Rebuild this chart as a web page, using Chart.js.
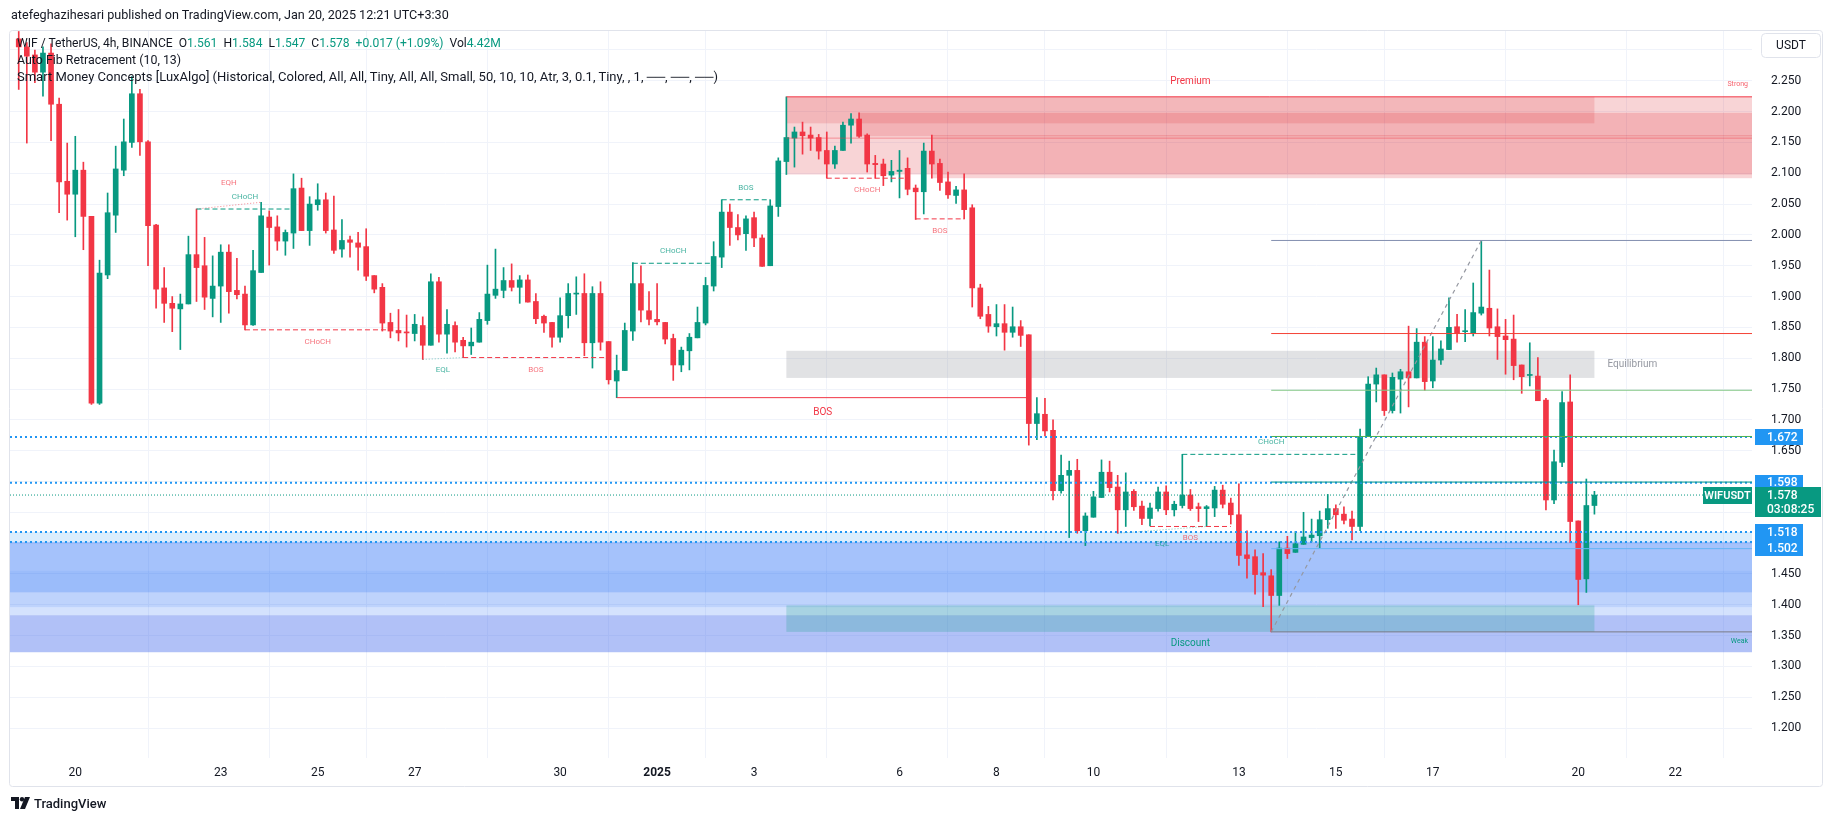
<!DOCTYPE html>
<html>
<head>
<meta charset="utf-8">
<title>WIFUSDT 4h</title>
<script src="https://cdn.jsdelivr.net/npm/chart.js@4.4.1/dist/chart.umd.min.js"></script>
<style>
  html, body { margin: 0; padding: 0; background: #fff; }
  #wrap { position: relative; width: 1835px; height: 821px; overflow: hidden; }
  #chart { position: absolute; left: 0; top: 0; }
  .txt { position: absolute; white-space: pre; font-family: Roboto, "Liberation Sans", sans-serif; color: #131722; line-height: 16px; }
  .g { color: #089981; }
</style>
</head>
<body>
<div id="wrap">
  <canvas id="chart" width="1835" height="821"></canvas>
  <div class="txt" style="left:11px; top:7px; font-size:12.6px;">atefeghazihesari published on TradingView.com, Jan 20, 2025 12:21 UTC+3:30</div>
  <div class="txt" style="left:17px; top:35px; font-size:12.1px;">WIF / TetherUS, 4h, BINANCE  O<span class="g">1.561</span>  H<span class="g">1.584</span>  L<span class="g">1.547</span>  C<span class="g">1.578</span>  <span class="g">+0.017 (+1.09%)</span>  Vol<span class="g">4.42M</span></div>
  <div class="txt" style="left:17px; top:52px; font-size:12.4px;">Auto Fib Retracement (10, 13)</div>
  <div class="txt" style="left:17px; top:69px; font-size:13px;">Smart Money Concepts [LuxAlgo] (Historical, Colored, All, All, Tiny, All, All, Small, 50, 10, 10, Atr, 3, 0.1, Tiny, , 1, ──, ──, ──)</div>
  <div class="txt" style="left:11px; top:797px; font-size:13px; font-weight:500; line-height:14px;"><svg width="20" height="12" viewBox="0 0 20 12" style="vertical-align:-1px"><path d="M0 0h8v12H4V4H0z" fill="#131722"/><circle cx="11" cy="2.2" r="2.2" fill="#131722"/><path d="M14 0h5l-5 12H9z" fill="#131722"/></svg> TradingView</div>
</div>

<script>
// ── Candles, 4h, index 0 = first bar on screen (Dec 18 23:30) ────
const opens = [
  2.318,2.305,2.292,2.264,2.295,2.212,2.087,2.066,2.105,2.030,
  1.727,1.935,2.032,2.105,2.150,2.229,2.151,2.016,1.914,1.889,
  1.880,1.888,1.968,1.950,1.897,1.917,1.972,1.910,1.904,1.854,
  1.939,2.029,2.013,1.990,2.003,2.076,2.007,2.049,2.057,2.008,
  1.977,1.992,1.987,1.981,1.934,1.915,1.858,1.845,1.842,1.840,
  1.853,1.821,1.924,1.839,1.853,1.829,1.820,1.826,1.861,1.902,
  1.910,1.926,1.915,1.927,1.892,1.868,1.858,1.834,1.869,1.904,
  1.905,1.825,1.905,1.827,1.763,1.780,1.844,1.921,1.877,1.863,
  1.858,1.832,1.789,1.812,1.833,1.857,1.917,1.964,2.037,2.012,
  2.002,2.028,1.995,1.950,2.046,2.119,2.157,2.167,2.162,2.158,
  2.137,2.115,2.137,2.178,2.188,2.162,2.116,2.115,2.097,2.103,
  2.108,2.076,2.070,2.136,2.116,2.086,2.064,2.073,2.044,1.914,
  1.871,1.851,1.856,1.842,1.851,1.838,1.694,1.709,1.683,1.585,
  1.610,1.618,1.520,1.542,1.574,1.615,1.591,1.554,1.584,1.560,
  1.540,1.556,1.583,1.554,1.561,1.578,1.559,1.556,1.557,1.586,
  1.565,1.546,1.481,1.478,1.452,1.447,1.415,1.492,1.485,1.498,
  1.509,1.512,1.538,1.556,1.547,1.539,1.527,1.673,1.758,1.773,
  1.715,1.766,1.778,1.768,1.826,1.763,1.797,1.814,1.851,1.843,
  1.840,1.873,1.881,1.851,1.836,1.831,1.789,1.772,1.771,1.732,
  1.570,1.631,1.729,1.536,1.442,1.561
];
const highs = [
  2.330,2.312,2.300,2.305,2.310,2.222,2.149,2.160,2.118,2.030,
  1.959,2.068,2.144,2.188,2.257,2.236,2.153,2.017,1.947,1.900,
  1.904,1.998,2.042,1.996,1.966,1.984,1.984,1.962,1.917,1.975,
  2.053,2.039,2.031,2.008,2.099,2.092,2.062,2.083,2.068,2.063,
  2.025,1.998,2.004,2.010,1.934,1.921,1.873,1.879,1.870,1.871,
  1.867,1.937,1.931,1.879,1.859,1.834,1.849,1.874,1.951,1.977,
  1.947,1.953,1.934,1.935,1.905,1.870,1.858,1.898,1.921,1.932,
  1.937,1.916,1.924,1.827,1.805,1.857,1.955,1.950,1.908,1.921,
  1.858,1.839,1.818,1.840,1.883,1.931,1.989,2.057,2.050,2.033,
  2.031,2.037,2.000,2.057,2.125,2.224,2.175,2.183,2.175,2.163,
  2.167,2.144,2.183,2.197,2.198,2.164,2.129,2.123,2.121,2.137,
  2.125,2.081,2.149,2.162,2.123,2.102,2.079,2.099,2.049,1.920,
  1.884,1.887,1.887,1.883,1.861,1.838,1.736,1.735,1.700,1.643,
  1.633,1.636,1.549,1.584,1.635,1.633,1.610,1.614,1.587,1.568,
  1.565,1.591,1.593,1.568,1.644,1.587,1.565,1.561,1.592,1.594,
  1.573,1.596,1.520,1.489,1.483,1.457,1.502,1.511,1.519,1.550,
  1.539,1.552,1.579,1.562,1.559,1.552,1.685,1.770,1.784,1.773,
  1.776,1.782,1.852,1.848,1.835,1.835,1.828,1.898,1.871,1.879,
  1.922,1.991,1.943,1.880,1.863,1.870,1.789,1.825,1.801,1.735,
  1.651,1.746,1.773,1.536,1.604,1.584
];
const lows = [
  2.236,2.149,2.247,2.225,2.153,2.036,2.024,1.997,1.976,1.725,
  1.725,1.929,2.004,2.096,2.142,2.129,1.950,1.881,1.858,1.843,
  1.814,1.888,1.892,1.879,1.867,1.858,1.873,1.896,1.846,1.853,
  1.939,1.951,1.975,1.967,1.978,2.007,1.983,2.040,2.003,1.970,
  1.964,1.964,1.943,1.926,1.906,1.844,1.833,1.828,1.818,1.828,
  1.798,1.821,1.826,1.808,1.810,1.801,1.806,1.826,1.855,1.897,
  1.898,1.909,1.889,1.891,1.856,1.842,1.818,1.826,1.849,1.871,
  1.804,1.784,1.813,1.758,1.736,1.780,1.829,1.859,1.854,1.854,
  1.823,1.764,1.778,1.781,1.833,1.854,1.909,1.947,1.983,1.992,
  1.975,1.981,1.949,1.950,2.030,2.098,2.110,2.131,2.137,2.123,
  2.092,2.108,2.137,2.149,2.158,2.102,2.092,2.080,2.086,2.060,
  2.065,2.025,2.034,2.092,2.072,2.059,2.051,2.026,1.883,1.864,
  1.842,1.836,1.813,1.834,1.819,1.659,1.668,1.674,1.570,1.581,
  1.509,1.516,1.496,1.542,1.574,1.583,1.516,1.527,1.553,1.530,
  1.528,1.552,1.546,1.544,1.557,1.553,1.535,1.527,1.543,1.557,
  1.531,1.464,1.443,1.417,1.397,1.356,1.399,1.475,1.485,1.498,
  1.502,1.492,1.524,1.524,1.531,1.505,1.520,1.673,1.729,1.707,
  1.711,1.711,1.721,1.768,1.748,1.752,1.790,1.814,1.826,1.827,
  1.836,1.870,1.836,1.798,1.774,1.765,1.743,1.755,1.731,1.554,
  1.564,1.624,1.501,1.400,1.420,1.547
];
const closes = [
  2.305,2.290,2.264,2.295,2.212,2.086,2.066,2.105,2.030,1.727,
  1.938,2.036,2.107,2.151,2.229,2.151,2.015,1.912,1.889,1.881,
  1.888,1.968,1.947,1.899,1.917,1.972,1.908,1.903,1.854,1.942,
  2.031,2.012,1.990,2.004,2.075,2.007,2.050,2.057,2.007,1.975,
  1.991,1.988,1.980,1.933,1.912,1.857,1.844,1.841,1.841,1.855,
  1.821,1.924,1.839,1.855,1.826,1.820,1.826,1.863,1.904,1.912,
  1.926,1.915,1.927,1.891,1.864,1.857,1.834,1.869,1.905,1.905,
  1.825,1.905,1.826,1.765,1.780,1.845,1.921,1.878,1.863,1.859,
  1.831,1.789,1.813,1.834,1.858,1.918,1.965,2.037,2.012,2.000,
  2.026,1.995,1.949,2.047,2.120,2.158,2.167,2.161,2.157,2.136,
  2.115,2.137,2.178,2.188,2.160,2.115,2.114,2.096,2.103,2.105,
  2.074,2.070,2.136,2.115,2.085,2.065,2.073,2.041,1.914,1.868,
  1.852,1.856,1.842,1.851,1.837,1.694,1.710,1.682,1.585,1.610,
  1.618,1.520,1.544,1.575,1.615,1.590,1.554,1.583,1.559,1.540,
  1.557,1.583,1.554,1.563,1.578,1.556,1.556,1.559,1.586,1.563,
  1.546,1.480,1.475,1.449,1.448,1.415,1.492,1.483,1.499,1.510,
  1.513,1.538,1.556,1.546,1.537,1.527,1.673,1.758,1.773,1.715,
  1.769,1.778,1.768,1.826,1.762,1.797,1.815,1.850,1.840,1.844,
  1.874,1.883,1.849,1.835,1.830,1.788,1.770,1.773,1.731,1.570,
  1.632,1.728,1.535,1.441,1.561,1.578
];

// ── Axis ticks ───────────────────────────────────────────────
const timeTickIdx    = [7, 25, 37, 49, 67, 79, 91, 109, 121, 133, 151, 163, 175, 193, 205];
const timeTickLabels = ['20', '23', '25', '27', '30', '2025', '3', '6', '8', '10', '13', '15', '17', '20', '22'];
const priceTicks = [1.20, 1.25, 1.30, 1.35, 1.40, 1.45, 1.50, 1.55, 1.60, 1.65, 1.70, 1.75, 1.80,
                    1.85, 1.90, 1.95, 2.00, 2.05, 2.10, 2.15, 2.20, 2.25, 2.30];

// ── Drawn levels ─────────────────────────────────────────────
const blueLevels = [1.672, 1.598, 1.518, 1.502];
const lastPrice  = 1.578;
const fibLevels  = [1.991, 1.840, 1.748, 1.673, 1.599, 1.491, 1.356];
const fibStart   = 155;
const fibTrend   = [[155, 1.356], [181, 1.991]];

// ── SMC structure: [fromIdx, fromPrice, toIdx, toPrice, text, kind] ──
const structure = [
    [22, 2.042, 34, 2.042, 'CHoCH', 'bull'],
    [22, 2.042, 30, 2.053, 'EQH', 'eqh'],
    [28, 1.846, 46, 1.846, 'CHoCH', 'bear'],
    [50, 1.798, 55, 1.801, 'EQL', 'eql'],
    [55, 1.801, 73, 1.801, 'BOS', 'bear'],
    [76, 1.954, 86, 1.954, 'CHoCH', 'bull'],
    [87, 2.057, 93, 2.057, 'BOS', 'bull'],
    [100, 2.092, 110, 2.092, 'CHoCH', 'bear'],
    [111, 2.026, 117, 2.026, 'BOS', 'bear'],
    [74, 1.736, 125, 1.736, 'BOS', 'swing'],
    [144, 1.644, 166, 1.644, 'CHoCH', 'bull'],
    [136, 1.516, 147, 1.527, 'EQL', 'eql'],
    [140, 1.527, 150, 1.527, 'BOS', 'bear'],
];

// ── Zones and order blocks ───────────────────────────────────
const zoneSpan        = [95, 195];
const premiumZone     = [2.181, 2.224];
const equilibriumZone = [1.768, 1.812];
const discountZone    = [1.356, 1.399];
const strongHigh      = [95, 2.224];
const weakLow         = [155, 1.356];
const bearBlocks = [[95, 2.098, 2.224], [104, 2.160, 2.198], [113, 2.092, 2.162]];   // [fromIdx, bottom, top]
const bearMid    = 2.157;
const bullBlocks = [[-5, 1.420, 1.502], [-5, 1.420, 1.455], [-5, 1.396, 1.420], [-5, 1.383, 1.396], [-5, 1.323, 1.383]];
const markedBand = [1.502, 1.518];

// ── Layout constants (px) ────────────────────────────────────
const X_MIN = -1.08, X_MAX = 214.5;
const Y_MIN = 1.1514, Y_MAX = 2.3308;
const GREEN = '#089981', RED = '#F23645', BLUE = '#2196F3';
const FONT  = 'Roboto, "Liberation Sans", sans-serif';
const bullFills = ['rgba(41,110,245,0.42)', 'rgba(41,110,245,0.08)', 'rgba(41,110,245,0.3)',
                   'rgba(41,110,245,0.2)', 'rgba(60,100,235,0.4)'];

const idx = opens.map((_, i) => i);
const candleColor = idx.map(i => closes[i] >= opens[i] ? GREEN : RED);

function seg(x1, y1, x2, y2, color, dash, width) {
    return {
        type: 'line',
        data: [{ x: x1, y: y1 }, { x: x2, y: y2 }],
        borderColor: color,
        borderDash: dash || [],
        borderWidth: width || 1,
        pointRadius: 0,
        fill: false,
        order: 0,
    };
}

// ── Overlay line datasets ────────────────────────────────────
const fibColors = ['#8390b0', '#F44336', '#81C784', '#4CAF50', '#009688', '#64B5F6', '#787B86'];
const lineSets = [];
fibLevels.forEach((v, k) => lineSets.push(seg(fibStart, v, X_MAX, v, fibColors[k], [], 1)));
lineSets.push(seg(fibTrend[0][0], fibTrend[0][1], fibTrend[1][0], fibTrend[1][1], '#9598a1', [4, 4], 1.2));
lineSets.push(seg(strongHigh[0], strongHigh[1], X_MAX, strongHigh[1], RED, [], 1));
lineSets.push(seg(bearBlocks[0][0], bearMid, X_MAX, bearMid, 'rgba(242,54,69,0.45)', [], 1));
blueLevels.forEach(v => lineSets.push(seg(X_MIN, v, X_MAX, v, BLUE, [2, 3], 2)));
lineSets.push(seg(X_MIN, lastPrice, X_MAX, lastPrice, GREEN, [1, 2], 1));

const structStyle = {
    bull:  { color: GREEN, dash: [5, 3] },
    bear:  { color: RED, dash: [5, 3] },
    eqh:   { color: 'rgba(242,54,69,0.6)', dash: [1, 2] },
    eql:   { color: 'rgba(8,153,129,0.5)', dash: [1, 2] },
    swing: { color: RED, dash: [] },
};
structure.forEach(s => {
    const st = structStyle[s[5]];
    lineSets.push(seg(s[0], s[1], s[2], s[3], st.color, st.dash, 1));
});

// ── Boxes (behind the candles) ───────────────────────────────
const boxPlugin = {
    id: 'boxes',
    beforeDatasetsDraw(chart) {
        const { ctx, chartArea: a, scales: { x, y } } = chart;
        const rect = (x1, x2, p1, p2, fill) => {
            const l = x.getPixelForValue(x1), r = x.getPixelForValue(x2);
            const t = y.getPixelForValue(p2), b = y.getPixelForValue(p1);
            ctx.fillStyle = fill;
            ctx.fillRect(l, t, r - l, b - t);
        };
        ctx.save();
        ctx.beginPath();
        ctx.rect(a.left, a.top, a.right - a.left, a.bottom - a.top);
        ctx.clip();
        rect(X_MIN, X_MAX, markedBand[0], markedBand[1], 'rgba(33,150,243,0.16)');
        bullBlocks.forEach((b, k) => rect(b[0], X_MAX, b[1], b[2], bullFills[k]));
        bearBlocks.forEach(b => rect(b[0], X_MAX, b[1], b[2], 'rgba(220,40,50,0.2)'));
        rect(zoneSpan[0], zoneSpan[1], premiumZone[0], premiumZone[1], 'rgba(220,40,50,0.17)');
        rect(zoneSpan[0], zoneSpan[1], equilibriumZone[0], equilibriumZone[1], 'rgba(135,139,148,0.25)');
        rect(zoneSpan[0], zoneSpan[1], discountZone[0], discountZone[1], 'rgba(8,153,129,0.22)');
        ctx.restore();
    }
};

// ── Text labels on the chart ─────────────────────────────────
const labelPlugin = {
    id: 'labels',
    afterDatasetsDraw(chart) {
        const { ctx, scales: { x, y } } = chart;
        ctx.save();
        ctx.textAlign = 'center';
        ctx.textBaseline = 'middle';
        const put = (text, px, py, color, size) => {
            ctx.font = size + 'px ' + FONT;
            ctx.fillStyle = color;
            ctx.fillText(text, px, py);
        };
        structure.forEach(s => {
            const mx = x.getPixelForValue((s[0] + s[2]) / 2);
            const py = y.getPixelForValue(Math.max(s[1], s[3]));
            const kind = s[5];
            if (kind === 'bull') put(s[4], mx, py - 12, 'rgba(8,153,129,0.75)', 8);
            if (kind === 'bear') put(s[4], mx, y.getPixelForValue(s[3]) + 12, 'rgba(242,54,69,0.7)', 8);
            if (kind === 'eqh')  put(s[4], mx, py - 19, 'rgba(242,54,69,0.7)', 8);
            if (kind === 'eql')  put(s[4], mx, y.getPixelForValue(Math.min(s[1], s[3])) + 11, 'rgba(8,153,129,0.75)', 8);
            if (kind === 'swing') put(s[4], mx, py + 15, RED, 10);
        });
        const zx = x.getPixelForValue((zoneSpan[0] + zoneSpan[1]) / 2);
        put('Premium', zx, y.getPixelForValue(premiumZone[1]) - 15, RED, 10);
        put('Discount', zx, y.getPixelForValue(discountZone[0]) + 12, GREEN, 10);
        ctx.textAlign = 'left';
        put('Equilibrium', x.getPixelForValue(zoneSpan[1]) + 13,
            y.getPixelForValue((equilibriumZone[0] + equilibriumZone[1]) / 2), '#9598a1', 10);
        ctx.textAlign = 'right';
        put('Strong', chart.chartArea.right - 4, y.getPixelForValue(strongHigh[1]) - 13, 'rgba(242,54,69,0.8)', 7);
        put('Weak', chart.chartArea.right - 4, y.getPixelForValue(weakLow[1]) + 9, GREEN, 7);
        ctx.restore();
    }
};

// ── Price tags, unit box and pane frame ──────────────────────
const tagPlugin = {
    id: 'tags',
    afterDraw(chart) {
        const { ctx, chartArea: a, scales: { y } } = chart;
        ctx.save();
        ctx.font = '500 12px ' + FONT;
        ctx.textBaseline = 'middle';
        ctx.textAlign = 'left';

        // blue level tags, pushed apart when they collide
        const pos = blueLevels.map(v => ({ v, p: y.getPixelForValue(v) })).sort((m, n) => m.p - n.p);
        for (let k = 1; k < pos.length; k++) {
            if (pos[k].p < pos[k - 1].p + 16) pos[k].p = pos[k - 1].p + 16;
        }
        pos.forEach(t => {
            ctx.fillStyle = BLUE;
            ctx.fillRect(a.right + 3, Math.round(t.p - 8), 48, 16);
            ctx.fillStyle = '#fff';
            ctx.fillText(t.v.toFixed(3), a.right + 15, t.p + 0.5);
        });

        // last price tag with countdown
        const lp = y.getPixelForValue(lastPrice);
        ctx.fillStyle = GREEN;
        ctx.fillRect(a.right + 3, Math.round(lp - 8), 66, 30);
        ctx.fillRect(a.right - 49, Math.round(lp - 8), 49, 17);
        ctx.fillStyle = '#fff';
        ctx.fillText(lastPrice.toFixed(3), a.right + 15, lp + 0.5);
        ctx.fillText('03:08:25', a.right + 15, lp + 14.5);
        ctx.font = '600 11px ' + FONT;
        ctx.textAlign = 'center';
        ctx.fillText('WIFUSDT', a.right - 24.5, lp + 1);

        // unit box
        ctx.strokeStyle = '#e0e3eb';
        ctx.lineWidth = 1;
        ctx.beginPath();
        ctx.roundRect(1761.5, 33.5, 59, 24, 4);
        ctx.stroke();
        ctx.fillStyle = '#131722';
        ctx.font = '12px ' + FONT;
        ctx.fillText('USDT', 1791, 46);

        // pane frame
        ctx.beginPath();
        ctx.roundRect(9.5, 30.5, 1813, 756, 3);
        ctx.stroke();
        ctx.restore();
    }
};

// ── Chart ────────────────────────────────────────────────────
const ctx = document.getElementById('chart').getContext('2d');
new Chart(ctx, {
    type: 'bar',
    data: {
        datasets: [
            ...lineSets,
            {
                label: 'body',
                data: idx.map(i => ({ x: i, y: [opens[i], closes[i]] })),
                backgroundColor: candleColor,
                barThickness: 5,
                minBarLength: 1,
                grouped: false,
                order: 1,
            },
            {
                label: 'wick',
                data: idx.map(i => ({ x: i, y: [lows[i], highs[i]] })),
                backgroundColor: candleColor,
                barThickness: 1,
                grouped: false,
                order: 2,
            },
        ]
    },
    options: {
        responsive: false,
        devicePixelRatio: 1,
        animation: false,
        events: [],
        layout: { padding: { left: 10, top: 31, right: 12, bottom: 35 } },
        plugins: {
            legend: { display: false },
            tooltip: { enabled: false },
        },
        scales: {
            x: {
                type: 'linear',
                min: X_MIN,
                max: X_MAX,
                offset: false,
                afterBuildTicks: s => { s.ticks = timeTickIdx.map(v => ({ value: v })); },
                afterFit: s => { s.height = 28; },
                ticks: {
                    autoSkip: false,
                    maxRotation: 0,
                    padding: 8,
                    color: '#131722',
                    font: c => ({ family: FONT, size: 12, weight: c.index === 5 ? 'bold' : 'normal' }),
                    callback: (v, i) => timeTickLabels[i],
                },
                grid: { color: '#f0f3fa', drawTicks: false },
                border: { display: false },
            },
            y: {
                position: 'right',
                min: Y_MIN,
                max: Y_MAX,
                afterBuildTicks: s => { s.ticks = priceTicks.map(v => ({ value: v })); },
                afterFit: s => { s.width = 71; },
                ticks: {
                    padding: 19,
                    color: '#131722',
                    font: { family: FONT, size: 12 },
                    callback: (v, i) => (i === priceTicks.length - 1 ? '' : v.toFixed(3)),
                },
                grid: { color: '#f0f3fa', drawTicks: false },
                border: { display: false },
            }
        }
    },
    plugins: [boxPlugin, labelPlugin, tagPlugin]
});
</script>
</body>
</html>
